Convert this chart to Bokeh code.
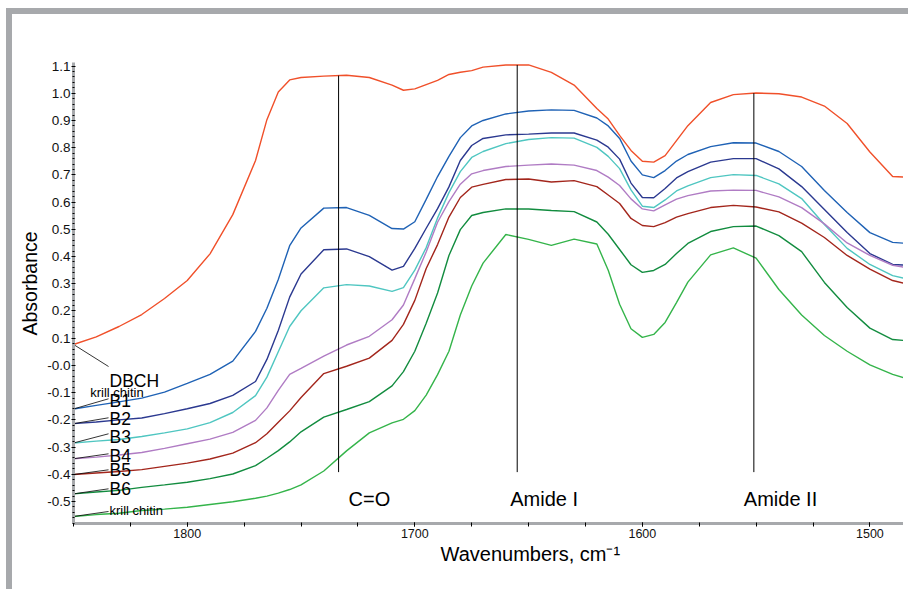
import numpy as np
from bokeh.plotting import figure
from bokeh.models import Range1d, FixedTicker, CustomJSTickFormatter, Title
from bokeh.embed import file_html
from bokeh.resources import INLINE
from bokeh.core.properties import value

# ---------------- data ----------------
wavenumber = [1850, 1840, 1830, 1820, 1810, 1800, 1790, 1780, 1770, 1765,
              1760, 1755, 1750, 1740, 1730, 1720, 1710, 1705, 1700, 1695,
              1690, 1685, 1680, 1675, 1670, 1660, 1650, 1640, 1630, 1620,
              1615, 1610, 1605, 1600, 1595, 1590, 1585, 1580, 1570, 1560,
              1550, 1540, 1530, 1520, 1510, 1500, 1490, 1481]

dbch = [0.077, 0.105, 0.143, 0.187, 0.246, 0.312, 0.410, 0.554, 0.753, 0.903,
        1.005, 1.049, 1.058, 1.063, 1.066, 1.058, 1.030, 1.011, 1.016, 1.032,
        1.047, 1.069, 1.077, 1.083, 1.096, 1.104, 1.104, 1.077, 1.030, 0.944,
        0.905, 0.845, 0.790, 0.750, 0.747, 0.771, 0.826, 0.881, 0.966, 0.995,
        1.001, 0.998, 0.986, 0.953, 0.889, 0.784, 0.694, 0.691]
b1 = [-0.160, -0.147, -0.134, -0.120, -0.098, -0.066, -0.033, 0.016, 0.125, 0.210,
      0.316, 0.440, 0.505, 0.578, 0.580, 0.551, 0.503, 0.501, 0.528, 0.610,
      0.694, 0.768, 0.837, 0.880, 0.900, 0.924, 0.935, 0.939, 0.937, 0.909,
      0.880, 0.834, 0.751, 0.700, 0.690, 0.716, 0.751, 0.775, 0.804, 0.818,
      0.817, 0.786, 0.731, 0.643, 0.562, 0.488, 0.452, 0.447]
b2 = [-0.214, -0.208, -0.200, -0.193, -0.177, -0.159, -0.140, -0.110, -0.059, 0.022,
      0.128, 0.251, 0.336, 0.425, 0.428, 0.400, 0.350, 0.364, 0.430, 0.504,
      0.576, 0.656, 0.753, 0.808, 0.834, 0.847, 0.850, 0.854, 0.854, 0.828,
      0.802, 0.758, 0.670, 0.617, 0.616, 0.650, 0.689, 0.712, 0.747, 0.760,
      0.760, 0.722, 0.657, 0.573, 0.488, 0.411, 0.371, 0.367]
b3 = [-0.285, -0.278, -0.272, -0.261, -0.248, -0.233, -0.210, -0.173, -0.111, -0.043,
      0.050, 0.143, 0.201, 0.285, 0.297, 0.292, 0.272, 0.286, 0.350, 0.433,
      0.542, 0.635, 0.712, 0.764, 0.786, 0.815, 0.830, 0.837, 0.835, 0.801,
      0.768, 0.723, 0.645, 0.585, 0.580, 0.608, 0.641, 0.660, 0.690, 0.701,
      0.698, 0.667, 0.613, 0.518, 0.430, 0.371, 0.330, 0.312]
b4 = [-0.343, -0.337, -0.329, -0.320, -0.305, -0.288, -0.271, -0.246, -0.202, -0.156,
      -0.092, -0.033, -0.011, 0.034, 0.075, 0.107, 0.168, 0.222, 0.319, 0.417,
      0.526, 0.602, 0.666, 0.704, 0.716, 0.731, 0.736, 0.740, 0.736, 0.716,
      0.692, 0.661, 0.612, 0.575, 0.568, 0.590, 0.611, 0.624, 0.641, 0.644,
      0.643, 0.619, 0.580, 0.520, 0.450, 0.404, 0.368, 0.355]
b5 = [-0.401, -0.395, -0.390, -0.383, -0.371, -0.359, -0.344, -0.322, -0.284, -0.251,
      -0.209, -0.167, -0.118, -0.030, -0.003, 0.027, 0.092, 0.151, 0.239, 0.356,
      0.444, 0.545, 0.617, 0.655, 0.665, 0.683, 0.685, 0.674, 0.679, 0.657,
      0.626, 0.595, 0.540, 0.514, 0.510, 0.525, 0.545, 0.558, 0.580, 0.588,
      0.582, 0.564, 0.523, 0.470, 0.404, 0.354, 0.312, 0.294]
b6 = [-0.472, -0.465, -0.459, -0.448, -0.439, -0.429, -0.416, -0.399, -0.368, -0.341,
      -0.313, -0.281, -0.244, -0.190, -0.162, -0.133, -0.075, -0.023, 0.052, 0.155,
      0.266, 0.404, 0.499, 0.551, 0.562, 0.575, 0.575, 0.569, 0.565, 0.527,
      0.482, 0.426, 0.370, 0.342, 0.349, 0.371, 0.411, 0.448, 0.492, 0.510,
      0.512, 0.477, 0.418, 0.305, 0.213, 0.137, 0.095, 0.089]
krill_chitin = [-0.555, -0.548, -0.543, -0.533, -0.528, -0.521, -0.511, -0.501, -0.488, -0.480,
                -0.469, -0.456, -0.439, -0.388, -0.314, -0.248, -0.211, -0.198, -0.166, -0.109,
                -0.034, 0.052, 0.185, 0.292, 0.376, 0.481, 0.463, 0.441, 0.464, 0.446,
                0.350, 0.225, 0.135, 0.103, 0.114, 0.158, 0.231, 0.306, 0.406, 0.432,
                0.394, 0.279, 0.185, 0.110, 0.052, 0.002, -0.033, -0.055]

series_names = ["DBCH", "B1", "B2", "B3", "B4", "B5", "B6", "krill chitin"]
series_values = [dbch, b1, b2, b3, b4, b5, b6, krill_chitin]

x_tick_values = [1800, 1700, 1600, 1500]
x_tick_labels = ["1800", "1700", "1600", "1500"]
y_tick_values = [1.1, 1.0, 0.9, 0.8, 0.7, 0.6, 0.5, 0.4, 0.3, 0.2, 0.1, 0.0,
                 -0.1, -0.2, -0.3, -0.4, -0.5]
y_tick_labels = ["1.1", "1.0", "0.9", "0.8", "0.7", "0.6", "0.5", "0.4", "0.3", "0.2",
                 "0.1", "-0.0", "-0.1", "-0.2", "-0.3", "-0.4", "-0.5"]

band_wavenumber = [1733.5, 1655, 1551]
band_labels = ["C=O", "Amide I", "Amide II"]
extra_label = "krill chitin"
x_title = "Wavenumbers, cm\u207b\u00b9"
y_title = "Absorbance"

# ---------------- styles / layout ----------------
colors = ["#f0502a", "#1f62b5", "#2b3990", "#4fc6c1", "#b07cc4", "#a3261c", "#128c3f", "#34b44a"]
FONT = "Liberation Sans"
AXIS_GRAY = "#a7a9ac"

X_START, X_END = 1850, 1480.4
Y_START, Y_END = -0.5808, 1.113

leader_end_x = 1834.6
leader_end_y = [-0.004, -0.1226, -0.1924, -0.2512, -0.3247, -0.3835, -0.4533, -0.5367]
label_base_y = [-0.0554, -0.1289, -0.1951, -0.2637, -0.3310, -0.3860, -0.4558, -0.5330]
label_sizes = ["17.5px"] * 7 + ["13px"]
extra_label_y = -0.0984
band_line_bottom = -0.392
band_text_y = -0.489
band_text_dx = [10, -7, -10]

p = figure(width=902, height=581,
           x_range=Range1d(X_START, X_END), y_range=Range1d(Y_START, Y_END),
           output_backend="svg", toolbar_location=None,
           min_border_left=61, min_border_right=0, min_border_top=48, min_border_bottom=72)
p.styles = {"margin-left": "6px", "margin-top": "8px", "padding-right": "5px",
            "border-top": "6px solid " + AXIS_GRAY, "border-left": "6px solid " + AXIS_GRAY}
p.xgrid.visible = False
p.ygrid.visible = False
p.outline_line_color = None
p.background_fill_color = "white"
p.border_fill_color = "white"

fmt_code = """
let best = 0, d = Infinity;
for (let i = 0; i < vals.length; i++) {
  const e = Math.abs(vals[i] - tick);
  if (e < d) { d = e; best = i; }
}
return labs[best];
"""

xa = p.xaxis[0]
xa.ticker = FixedTicker(ticks=x_tick_values, minor_ticks=list(range(1850, 1479, -25)))
xa.formatter = CustomJSTickFormatter(args=dict(vals=x_tick_values, labs=x_tick_labels), code=fmt_code)
ya = p.yaxis[0]
ya.ticker = FixedTicker(ticks=y_tick_values,
                        minor_ticks=[round(v, 2) for v in np.arange(-0.58, 1.111, 0.02)])
ya.formatter = CustomJSTickFormatter(args=dict(vals=y_tick_values, labs=y_tick_labels), code=fmt_code)

for ax in (xa, ya):
    ax.axis_line_color = AXIS_GRAY
    ax.axis_line_width = 3
    ax.major_tick_line_color = "black"
    ax.minor_tick_line_color = "black"
    ax.major_label_text_font = FONT
    ax.major_label_text_color = "#111111"

xa.major_tick_in = 1
xa.major_tick_out = 3
xa.minor_tick_in = 1
xa.minor_tick_out = 3
xa.major_label_standoff = 2
xa.major_label_text_font_size = "12.5px"

ya.major_tick_in = 2
ya.major_tick_out = 2
ya.minor_tick_in = 1
ya.minor_tick_out = 1
ya.major_label_standoff = 1
ya.major_label_text_font_size = "13.5px"

# spectra
for vals, col in zip(series_values, colors):
    p.line(wavenumber, vals, line_color=col, line_width=1.4)

# callout leader lines and labels
starts = [v[0] for v in series_values]
p.segment(x0=[wavenumber[0]] * len(starts), y0=starts,
          x1=[leader_end_x] * len(starts), y1=leader_end_y,
          line_color="black", line_width=0.8)
for name, yb, fs in zip(series_names, label_base_y, label_sizes):
    p.text(x=[wavenumber[0]], y=[yb], text=[name], x_offset=36,
           text_baseline="alphabetic", text_align="left",
           text_font=value(FONT), text_font_size=fs, text_color="black")
p.text(x=[wavenumber[0]], y=[extra_label_y], text=[extra_label], x_offset=16.7,
       text_baseline="alphabetic", text_align="left",
       text_font=value(FONT), text_font_size="13px", text_color="black")

# band marker lines
wn_rev = wavenumber[::-1]
tops = [float(np.interp(b, wn_rev, dbch[::-1])) for b in band_wavenumber]
p.segment(x0=band_wavenumber, y0=[band_line_bottom] * 3, x1=band_wavenumber, y1=tops,
          line_color="black", line_width=1)
p.text(x=band_wavenumber, y=[band_text_y] * 3, text=band_labels, x_offset=band_text_dx,
       text_baseline="alphabetic", text_align="left",
       text_font=value(FONT), text_font_size="20px", text_color="black")

# axis titles
p.add_layout(Title(text=y_title, align="left", offset=188, standoff=8,
                   text_font=FONT, text_font_size="19.5px", text_font_style="normal",
                   text_color="black"), "left")
p.add_layout(Title(text=x_title, align="left", offset=367, standoff=0,
                   text_font=FONT, text_font_size="20px", text_font_style="normal",
                   text_color="black"), "below")

open("out.html", "w").write(file_html(p, INLINE))
